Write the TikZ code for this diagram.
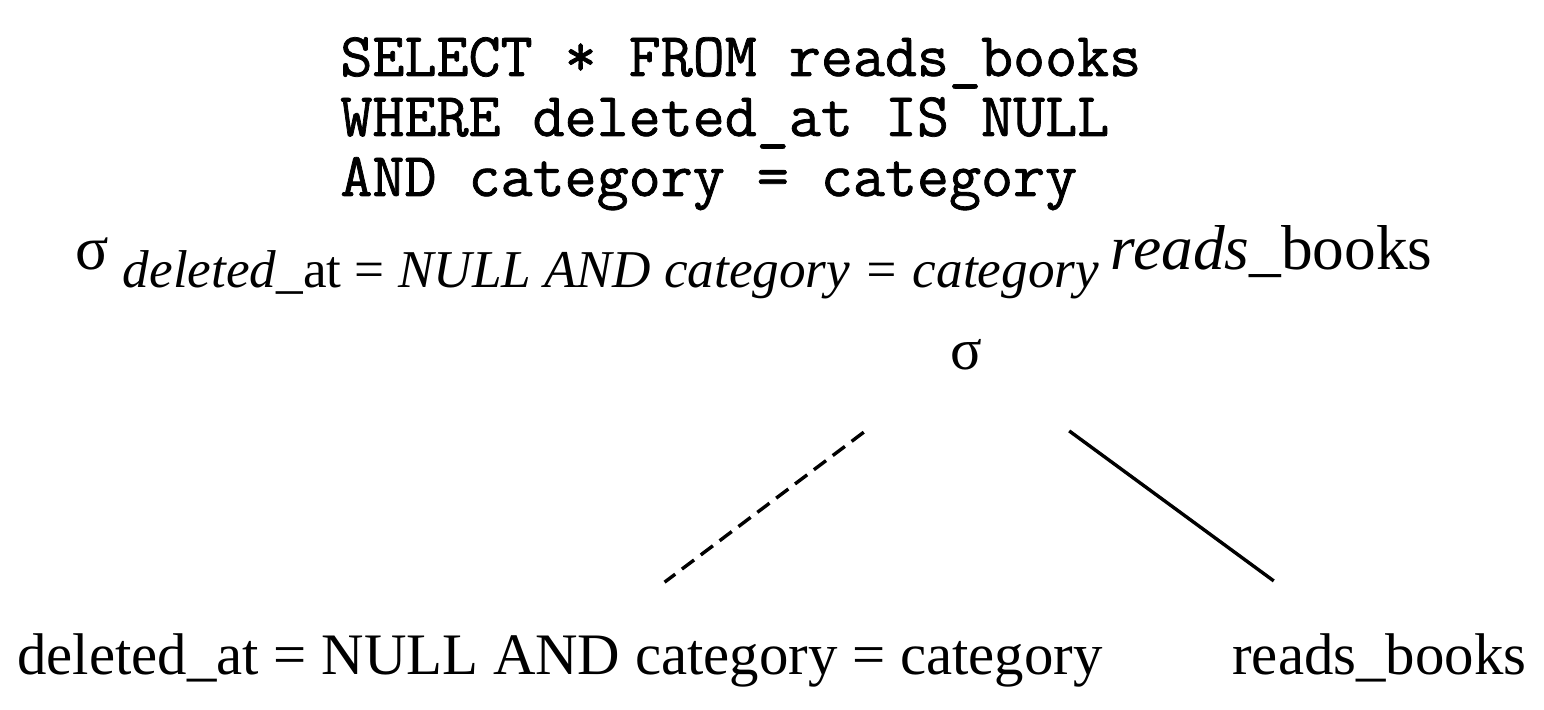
\documentclass[tikz,border=0pt]{standalone}
\usepackage{fontspec}
\setmainfont{Liberation Serif}
\newfontfamily\sqlfont[FakeBold=1.2]{Latin Modern Mono}

\begin{document}
\begin{tikzpicture}[x=0.5pt,y=-0.5pt]
    % Canvas of the same size as the reference
    \useasboundingbox (0,0) rectangle (1544,710);

    % Define font sizes
    \def\sqlsize{\fontsize{31.1pt}{30pt}\selectfont}
    \def\bigsize{\fontsize{29.4pt}{32pt}\selectfont}
    \def\subsize{\fontsize{26.6pt}{30pt}\selectfont}
    \def\relsize{\fontsize{31.7pt}{34pt}\selectfont}

    \tikzset{
        txt/.style={inner sep=0pt, anchor=base west},
        edge/.style={line width=1.7pt, shorten <=64pt, shorten >=65.5pt}
    }

    % SQL query, one node per line
    \foreach \sqlline [count=\i] in {SELECT * FROM reads\_books, WHERE deleted\_at IS NULL, AND category = category} {
        \node[txt, font=\sqlfont\sqlsize] (sql\i) at (340, 16 + 60*\i) {\sqlline};
    }

    % Selection written in one line
    \node[txt, font=\bigsize] (formula) at (75,270)
        {\fontsize{31pt}{32pt}\selectfont σ\hspace{7pt}\raisebox{-9pt}{\subsize\itshape deleted\/\upshape\_at = \itshape NULL AND category = category}\hspace{6pt}{\relsize\itshape reads\/\upshape\_books}};

    % Tree of the selection
    \node[font=\bigsize, inner sep=0pt, anchor=base] (root) at (966,370) {σ};
    \node[txt, font=\bigsize] (cond) at (17,675) {deleted\_at = NULL AND category = category};
    \node[txt, font=\bigsize] (rel) at (1232,675) {reads\_books};

    \draw[edge, dash pattern=on 7.6pt off 4.2pt] (root.center) -- (cond.center);
    \draw[edge] (root.center) -- (rel.center);
\end{tikzpicture}
\end{document}
